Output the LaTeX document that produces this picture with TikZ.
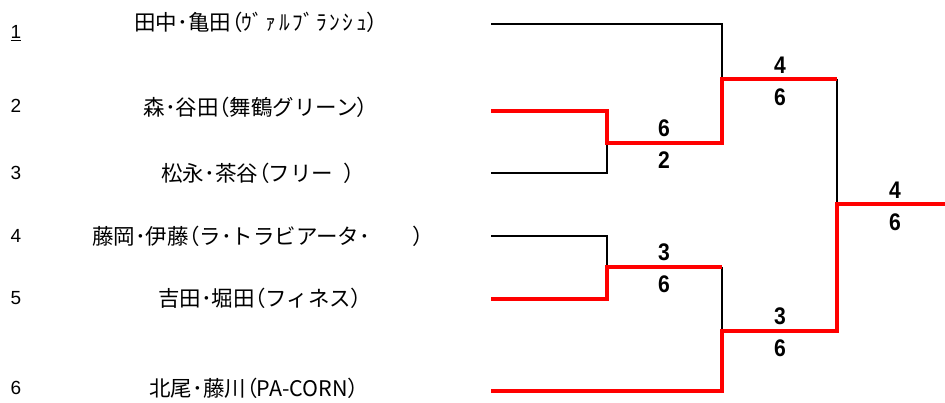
\documentclass[tikz,border=0pt]{standalone}
\usepackage{fontspec}
\newfontfamily\jp{Noto Sans CJK JP}
\newfontfamily\jpp[RawFeature=+palt]{Noto Sans CJK JP}
\newfontfamily\numf{Liberation Sans}
\newfontfamily\scoref[FakeStretch=0.88]{Liberation Sans}
\newcommand\lpar{{\jpp （}}
\newcommand\rpar{{\jpp ）}}
\newcommand\kk{\kern2.5pt}
\begin{document}
\begin{tikzpicture}[x=1pt,y=-1pt,
  teamname/.style={inner sep=0pt,anchor=center,font=\jp\fontsize{21.5}{22}\selectfont},
  seednum/.style={inner sep=0pt,anchor=center,font=\numf\fontsize{19}{19}\selectfont},
  scorenum/.style={inner sep=0pt,anchor=center,font=\scoref\bfseries\fontsize{24}{24}\selectfont},
  loseline/.style={draw=black,line width=2pt},
  winline/.style={draw=red,line width=3.6pt}]
\useasboundingbox (0,0) rectangle (945,403);
% seeds
\node[seednum] (s1) at (16,33) {\underline{1}};
\node[seednum] (s2) at (16,106) {2};
\node[seednum] (s3) at (16,173) {3};
\node[seednum] (s4) at (16,236) {4};
\node[seednum] (s5) at (16,298) {5};
\node[seednum] (s6) at (16,388) {6};
% names
\node[teamname] (n1) at (256,22) {田中･亀田\lpar ｳﾞ\kk ｧ\kk ﾙ\kk ﾌﾞ\kk ﾗ\kk ﾝ\kk ｼ\kk ｭ\rpar};
\node[teamname] (n2) at (256,107) {森･谷田\lpar 舞鶴グリーン\rpar};
\node[teamname] (n3) at (258,173) {松永･茶谷\lpar フリー\hspace{0.5em}\rpar};
\node[teamname] (n4) at (258,236) {藤岡･伊藤\lpar ラ･トラビアータ･　　\rpar};
\node[teamname] (n5) at (260,298) {吉田･堀田\lpar フィネス\rpar};
\node[teamname] (n6) at (254,388) {北尾･藤川\lpar PA-CORN\rpar};
% line starts
\coordinate (e1) at (491,24);
\coordinate (e2) at (491,111);
\coordinate (e3) at (491,173);
\coordinate (e4) at (491,236);
\coordinate (e5) at (491,299);
\coordinate (e6) at (491,391);
% junctions
\coordinate (m23) at (607,143);
\coordinate (m45) at (607,267);
\coordinate (q1) at (722,79);
\coordinate (q2) at (722,331);
\coordinate (f) at (837,204);
\coordinate (champ) at (945,204);
% black (losing) lines
\draw[loseline] (e1) -| (q1);
\draw[loseline] (e3) -| (m23);
\draw[loseline] (e4) -| (m45);
\draw[loseline] (722,267) -- (q2);
\draw[loseline] (837,79) -- (f);
% red (winning) lines
\draw[winline] (e2) -| (m23) -- (722,143) -- (q1) -- (837,79);
\draw[winline] (e5) -| (m45) -- (722,267);
\draw[winline] (e6) -| (q2) -- (837,331) -- (f) -- (champ);
% scores
\node[scorenum] (a1) at (664,128) {6};
\node[scorenum] (a2) at (664,160) {2};
\node[scorenum] (b1) at (780,65) {4};
\node[scorenum] (b2) at (780,97) {6};
\node[scorenum] (c1) at (664,252) {3};
\node[scorenum] (c2) at (664,284) {6};
\node[scorenum] (d1) at (780,316) {3};
\node[scorenum] (d2) at (780,348) {6};
\node[scorenum] (g1) at (895,190) {4};
\node[scorenum] (g2) at (895,222) {6};
\end{tikzpicture}
\end{document}
